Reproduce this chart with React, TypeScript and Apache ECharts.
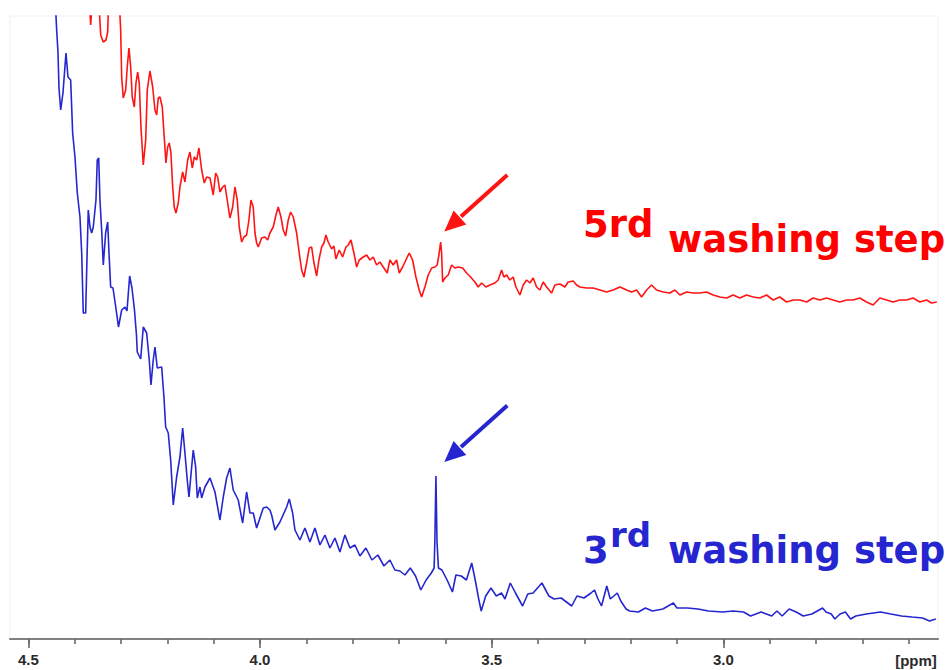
import React, { useEffect, useRef } from "react";
import * as echarts from "echarts";

// 1H NMR spectrum, chemical shift in ppm vs. intensity (arbitrary units)
const blueSpectrum: number[][] = [
  [4.4414,634],[4.4388,609],[4.4360,587],[4.4338,551],[4.4301,529],[4.4252,546],[4.4187,586],[4.4144,562],[4.4086,559],[4.4043,506],
  [4.3993,482],[4.3943,446],[4.3885,422],[4.3848,386],[4.3814,326],[4.3762,326],[4.3740,369],[4.3706,429],[4.3669,412],[4.3633,406],
  [4.3598,412],[4.3540,439],[4.3512,479],[4.3481,481],[4.3454,439],[4.3417,409],[4.3382,374],[4.3331,406],[4.3287,417],[4.3259,386],
  [4.3223,352],[4.3173,351],[4.3119,334],[4.3054,312],[4.2985,329],[4.2914,332],[4.2871,328],[4.2813,363],[4.2763,351],[4.2709,329],
  [4.2666,304],[4.2649,287],[4.2575,280],[4.2519,312],[4.2446,306],[4.2390,279],[4.2353,254],[4.2304,279],[4.2267,292],[4.2217,271],
  [4.2122,272],[4.2073,242],[4.2036,212],[4.1980,206],[4.1928,179],[4.1872,134],[4.1799,162],[4.1728,182],[4.1669,211],[4.1620,186],
  [4.1570,159],[4.1533,142],[4.1475,172],[4.1441,189],[4.1389,172],[4.1354,141],[4.1296,152],[4.1259,141],[4.1188,152],[4.1080,161],
  [4.0972,147],[4.0865,119],[4.0793,142],[4.0720,161],[4.0649,171],[4.0578,149],[4.0470,139],[4.0375,116],[4.0289,147],[4.0217,126],
  [4.0146,126],[4.0073,111],[3.9930,131],[3.9857,132],[3.9786,129],[3.9749,124],[3.9678,109],[3.9570,117],[3.9425,132],[3.9369,140],
  [3.9296,126],[3.9246,109],[3.9139,99],[3.9031,111],[3.8923,97],[3.8815,111],[3.8707,94],[3.8599,104],[3.8491,91],[3.8383,101],
  [3.8276,87],[3.8168,104],[3.8060,91],[3.7952,94],[3.7844,83],[3.7715,91],[3.7585,79],[3.7456,84],[3.7326,73],[3.7197,79],
  [3.7089,69],[3.6981,68],[3.6873,64],[3.6757,71],[3.6644,63],[3.6530,49],[3.6416,59],[3.6304,66],[3.6243,71],[3.6228,97],
  [3.6204,163],[3.6181,97],[3.6150,71],[3.6075,69],[3.5963,59],[3.5848,47],[3.5773,64],[3.5658,63],[3.5546,59],[3.5432,76],
  [3.5356,59],[3.5281,40],[3.5227,28],[3.5130,43],[3.5016,51],[3.4901,43],[3.4789,46],[3.4714,40],[3.4599,56],[3.4487,46],
  [3.4334,33],[3.4222,45],[3.4107,46],[3.3917,56],[3.3766,43],[3.3654,40],[3.3501,41],[3.3274,33],[3.3160,43],[3.3009,41],
  [3.2858,46],[3.2782,49],[3.2707,40],[3.2631,33],[3.2517,53],[3.2442,40],[3.2366,43],[3.2291,46],[3.2215,38],[3.2101,30],
  [3.2025,28],[3.1835,27],[3.1684,31],[3.1533,28],[3.1307,30],[3.1080,36],[3.1003,31],[3.0776,31],[3.0550,30],[3.0323,28],
  [3.0019,27],[2.9792,28],[2.9566,27],[2.9415,23],[2.9186,27],[2.8959,23],[2.8845,28],[2.8733,23],[2.8582,30],[2.8429,27],
  [2.8278,23],[2.8090,25],[2.7861,31],[2.7786,27],[2.7674,25],[2.7596,20],[2.7484,25],[2.7369,27],[2.7257,20],[2.7143,23],
  [2.6916,25],[2.6612,27],[2.6386,25],[2.6159,23],[2.5932,22],[2.5704,21],[2.5553,18],[2.5417,20]
];

const redSpectrum: number[][] = [
  [4.3680,634],[4.3654,614],[4.3626,634],[4.3475,634],[4.3438,604],[4.3382,597],[4.3324,599],[4.3287,607],[4.3270,634],[4.3033,634],
  [4.3007,609],[4.2985,562],[4.2951,541],[4.2899,549],[4.2865,572],[4.2828,591],[4.2791,572],[4.2757,542],[4.2713,532],[4.2677,556],
  [4.2640,567],[4.2606,556],[4.2569,512],[4.2519,474],[4.2467,499],[4.2433,549],[4.2375,568],[4.2316,552],[4.2267,529],[4.2230,524],
  [4.2196,541],[4.2159,542],[4.2109,532],[4.2073,506],[4.2030,476],[4.1993,492],[4.1958,496],[4.1922,486],[4.1885,452],[4.1851,432],
  [4.1814,426],[4.1764,436],[4.1728,452],[4.1669,467],[4.1620,457],[4.1561,479],[4.1512,487],[4.1462,471],[4.1419,482],[4.1367,479],
  [4.1318,491],[4.1259,469],[4.1203,456],[4.1151,462],[4.1080,461],[4.1009,444],[4.0957,466],[4.0914,462],[4.0865,447],[4.0806,452],
  [4.0757,454],[4.0698,436],[4.0649,421],[4.0590,432],[4.0541,452],[4.0491,439],[4.0448,412],[4.0396,397],[4.0347,402],[4.0289,404],
  [4.0239,419],[4.0196,439],[4.0146,432],[4.0109,406],[4.0073,396],[4.0038,392],[3.9965,401],[3.9894,402],[3.9835,399],[3.9786,406],
  [3.9715,412],[3.9656,424],[3.9607,432],[3.9548,422],[3.9499,409],[3.9447,403],[3.9391,419],[3.9339,427],[3.9283,422],[3.9210,406],
  [3.9154,386],[3.9102,369],[3.9052,362],[3.8994,376],[3.8938,391],[3.8886,392],[3.8836,376],[3.8778,363],[3.8729,379],[3.8670,392],
  [3.8621,396],[3.8577,404],[3.8528,397],[3.8455,390],[3.8405,393],[3.8362,380],[3.8291,389],[3.8217,382],[3.8146,392],[3.8096,394],
  [3.8038,399],[3.7973,386],[3.7915,372],[3.7859,379],[3.7773,382],[3.7699,384],[3.7628,379],[3.7557,382],[3.7484,374],[3.7413,377],
  [3.7341,372],[3.7255,366],[3.7197,379],[3.7126,374],[3.7052,379],[3.6996,366],[3.6923,372],[3.6852,379],[3.6780,386],[3.6707,379],
  [3.6636,362],[3.6565,349],[3.6513,342],[3.6442,352],[3.6370,364],[3.6297,371],[3.6226,372],[3.6176,374],[3.6133,386],[3.6103,397],
  [3.6081,386],[3.6060,357],[3.6010,361],[3.5939,364],[3.5866,374],[3.5794,371],[3.5723,372],[3.5628,371],[3.5542,366],[3.5456,362],
  [3.5363,357],[3.5292,352],[3.5218,356],[3.5126,352],[3.5039,354],[3.4931,356],[3.4860,359],[3.4787,369],[3.4737,362],[3.4679,364],
  [3.4608,359],[3.4537,362],[3.4478,352],[3.4392,344],[3.4321,354],[3.4247,359],[3.4176,356],[3.4105,361],[3.4032,352],[3.3961,349],
  [3.3889,357],[3.3816,352],[3.3708,346],[3.3637,354],[3.3529,355],[3.3421,352],[3.3350,357],[3.3242,358],[3.3169,354],[3.3098,352],
  [3.2953,351],[3.2811,351],[3.2666,349],[3.2521,347],[3.2379,349],[3.2235,352],[3.2090,349],[3.1982,347],[3.1874,349],[3.1766,342],
  [3.1658,349],[3.1551,354],[3.1443,349],[3.1300,347],[3.1156,346],[3.1048,349],[3.0940,344],[3.0795,347],[3.0653,346],[3.0509,346],
  [3.0364,347],[3.0222,344],[3.0077,342],[2.9932,341],[2.9790,344],[2.9646,341],[2.9501,344],[2.9359,342],[2.9214,341],[2.9069,344],
  [2.8927,339],[2.8783,342],[2.8638,337],[2.8496,339],[2.8351,339],[2.8206,337],[2.8064,341],[2.7920,339],[2.7775,341],[2.7633,339],
  [2.7488,337],[2.7343,339],[2.7201,339],[2.7057,341],[2.6912,337],[2.6770,334],[2.6625,341],[2.6480,339],[2.6338,337],[2.6194,339],
  [2.6049,339],[2.5907,341],[2.5762,337],[2.5617,339],[2.5510,336],[2.5395,337]
];

const majorTicks = [4.5, 4.0, 3.5, 3.0];
const minorTicks = [4.5, 4.4, 4.3, 4.2, 4.1, 4.0, 3.9, 3.8, 3.7, 3.6, 3.5, 3.4, 3.3, 3.2, 3.1, 3.0, 2.9, 2.8, 2.7, 2.6];
const shiftMin = 2.537;
const shiftMax = 4.5395;
const intensityMax = 623;
const unitLabel = "[ppm]";
const redLabelNumber = "5rd";
const blueLabelNumber = "3";
const blueLabelSuffix = "rd";
const stepLabel = "washing step";

const RED = "#ff1414";
const BLUE = "#2626d0";
const TEXT_FONT = '"DejaVu Sans", Verdana, sans-serif';
const AXIS_FONT = '"Liberation Sans", Arial, sans-serif';

export default function App() {
  const ref = useRef<HTMLDivElement>(null);

  useEffect(() => {
    document.body.style.margin = "0";
    const chart = echarts.init(ref.current!, null, { renderer: "svg" });

    const arrow = (color: string, dy: number) => [
      {
        type: "line",
        shape: { x1: 507.3, y1: 175 + dy, x2: 461, y2: 216.5 + dy },
        style: { stroke: color, lineWidth: 4 },
        silent: true,
      },
      {
        type: "polygon",
        shape: { points: [[444.3, 231.5 + dy], [466.3, 224.6 + dy], [453.6, 210.4 + dy]] },
        style: { fill: color },
        silent: true,
      },
    ];

    const txt = (text: string, x: number, y: number, size: number, color: string) => ({
      type: "text",
      x,
      y,
      silent: true,
      style: {
        text,
        fill: color,
        font: `bold ${size}px ${TEXT_FONT}`,
        textAlign: "left",
        textVerticalAlign: "middle",
        align: "left",
        verticalAlign: "middle",
      },
    });

    chart.setOption({
      animation: false,
      backgroundColor: "#ffffff",
      grid: {
        left: 10,
        right: 14,
        top: 16,
        bottom: 31,
        show: true,
        borderColor: "#f0f0f0",
        borderWidth: 1,
        containLabel: false,
        outerBoundsMode: "none",
      },
      xAxis: [
        {
          type: "value",
          min: shiftMin,
          max: shiftMax,
          inverse: true,
          position: "bottom",
          axisLine: { show: true, onZero: false, lineStyle: { color: "#808080", width: 2.2 } },
          axisTick: { show: true, customValues: majorTicks, length: 9, lineStyle: { color: "#6a6a6a", width: 1.6 } },
          axisLabel: {
            show: true,
            customValues: majorTicks,
            margin: 13,
            formatter: (v: number) => v.toFixed(1),
            color: "#2a2a2a",
            fontFamily: AXIS_FONT,
            fontWeight: "bold",
            fontSize: 15,
          },
          splitLine: { show: false },
        },
        {
          type: "value",
          min: shiftMin,
          max: shiftMax,
          inverse: true,
          position: "bottom",
          axisLine: { show: false },
          axisTick: { show: true, customValues: minorTicks, length: 5, lineStyle: { color: "#6a6a6a", width: 1.6 } },
          axisLabel: { show: false },
          splitLine: { show: false },
        },
      ],
      yAxis: {
        type: "value",
        min: 0,
        max: intensityMax,
        show: false,
        splitLine: { show: false },
      },
      series: [
        {
          type: "line",
          name: "5rd washing step",
          data: redSpectrum,
          xAxisIndex: 0,
          showSymbol: false,
          symbol: "none",
          clip: true,
          lineStyle: { color: RED, width: 1.6 },
          silent: true,
        },
        {
          type: "line",
          name: "3rd washing step",
          data: blueSpectrum,
          xAxisIndex: 0,
          showSymbol: false,
          symbol: "none",
          clip: true,
          lineStyle: { color: BLUE, width: 1.6 },
          silent: true,
        },
      ],
      graphic: [
        ...arrow(RED, 0),
        ...arrow(BLUE, 230.5),
        txt(redLabelNumber, 583, 224, 37, "#ff0000"),
        txt(stepLabel, 668, 239, 37, "#ff0000"),
        txt(blueLabelNumber, 583, 550, 37, BLUE),
        txt(blueLabelSuffix, 610, 535, 34, BLUE),
        txt(stepLabel, 668, 550, 37, BLUE),
        {
          type: "text",
          x: 916,
          y: 660,
          silent: true,
          style: {
            text: unitLabel,
            fill: "#2a2a2a",
            font: `bold 15px ${AXIS_FONT}`,
            textAlign: "center",
            textVerticalAlign: "middle",
            align: "center",
            verticalAlign: "middle",
          },
        },
      ],
    });

    return () => chart.dispose();
  }, []);

  return (
    <div
      ref={ref}
      style={{ position: "fixed", left: 0, top: 0, width: 952, height: 670, background: "#fff" }}
    />
  );
}
